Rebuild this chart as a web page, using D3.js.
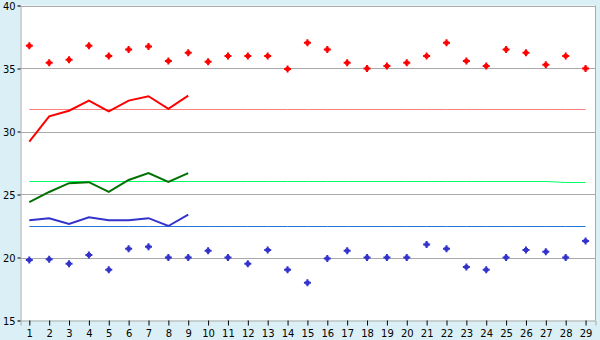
<!DOCTYPE html>
<html><head><meta charset="utf-8">
<script src="https://cdn.jsdelivr.net/npm/d3@7"></script>
<style>html,body{margin:0;padding:0;background:#daf0f6;}svg{display:block;}</style>
</head><body>
<script>
const days = d3.range(1, 30);
const yTicks = [15, 20, 25, 30, 35, 40];
const redLine = [29.2, 31.2, 31.65, 32.45, 31.6, 32.45, 32.8, 31.8, 32.85];
const greenLine = [24.4, 25.2, 25.9, 25.98, 25.2, 26.15, 26.7, 26.0, 26.7];
const blueLine = [22.96, 23.12, 22.67, 23.2, 22.96, 22.96, 23.12, 22.5, 23.4];
const redPoints = [36.8, 35.45, 35.7, 36.8, 36.0, 36.5, 36.75, 35.6, 36.25, 35.53, 36.0, 36.0, 36.0, 34.97, 37.05, 36.5, 35.45, 35.0, 35.2, 35.45, 36.0, 37.05, 35.6, 35.2, 36.5, 36.25, 35.3, 36.0, 35.0];
const bluePoints = [19.8, 19.87, 19.5, 20.2, 19.02, 20.7, 20.85, 20.0, 20.0, 20.53, 20.0, 19.5, 20.6, 19.02, 18.0, 19.92, 20.53, 20.0, 20.0, 20.0, 21.04, 20.7, 19.25, 19.02, 20.0, 20.6, 20.45, 20.0, 21.3];
const redRef = days.map(() => 31.8);
const greenRef = days.map((d) => d <= 27 ? 26.1 : 26.03);
const blueRef = days.map(() => 22.5);

const W = 600, H = 340;
const L = 20.5, R = 595.5, T = 5.5, B = 320.5;
const svg = d3.select("body").append("svg").attr("width", W).attr("height", H);
const x = d3.scaleLinear().domain([0.557, 29.5]).range([L, R]);
const y = d3.scaleLinear().domain([15, 40]).range([B, T]);

svg.append("rect").attr("x", L).attr("y", T).attr("width", R - L).attr("height", B - T).attr("fill", "#fff");

// grid
svg.append("g").selectAll("line").data(yTicks.filter(v => v > 15)).join("line")
  .attr("x1", L).attr("x2", R).attr("y1", d => Math.round(y(d)) + 0.5).attr("y2", d => Math.round(y(d)) + 0.5)
  .attr("stroke", "#aaaaaa").attr("stroke-width", 1);
svg.append("line").attr("x1", R).attr("x2", R).attr("y1", T).attr("y2", B).attr("stroke", "#aaaaaa");

// axes
const yAxis = d3.axisLeft(y).tickValues(yTicks).tickSize(3).tickPadding(2).tickFormat(d3.format("d"));
const gy = svg.append("g").attr("transform", `translate(${L},0)`).call(yAxis);
const xAxis = d3.axisBottom(x).tickValues(days).tickSize(5).tickPadding(4).tickFormat(d3.format("d"));
const gx = svg.append("g").attr("transform", `translate(0,${B})`).call(xAxis);
[gx, gy].forEach(g => {
  g.select(".domain").attr("stroke", "#aaaaaa");
  g.selectAll(".tick line").attr("stroke", "#000");
  g.selectAll("text").attr("fill", "#000");
});
gx.selectAll("text").attr("font-family", "DejaVu Sans, Verdana, sans-serif").attr("font-size", 10);
gy.selectAll("text").attr("font-family", "DejaVu Sans Condensed, DejaVu Sans, sans-serif").attr("font-size", 11);

// reference lines
const line = d3.line().x((d, i) => x(i + 1)).y(d => y(d));
const refLine = d3.line().x((d, i) => x(i + 1)).y(d => Math.round(y(d)) + 0.5);
svg.append("path").datum(redRef).attr("d", refLine).attr("fill", "none").attr("stroke", "#ff8080").attr("stroke-width", 1);
svg.append("path").datum(greenRef).attr("d", refLine).attr("fill", "none").attr("stroke", "#00ff66").attr("stroke-width", 1);
svg.append("path").datum(blueRef).attr("d", refLine).attr("fill", "none").attr("stroke", "#2277dd").attr("stroke-width", 1);

// data lines
svg.append("path").datum(redLine).attr("d", line).attr("fill", "none").attr("stroke", "#ff0000").attr("stroke-width", 2);
svg.append("path").datum(greenLine).attr("d", line).attr("fill", "none").attr("stroke", "#007000").attr("stroke-width", 2);
svg.append("path").datum(blueLine).attr("d", line).attr("fill", "none").attr("stroke", "#3333cc").attr("stroke-width", 2);

// markers
const marker = "M-1,-3.5H1V-2H2V-1H3.5V1H2V2H1V3.5H-1V2H-2V1H-3.5V-1H-2V-2H-1Z";
svg.append("g").selectAll("path").data(redPoints).join("path")
  .attr("d", marker).attr("transform", (d, i) => `translate(${x(i + 1)},${y(d)})`).attr("fill", "#ff0000");
svg.append("g").selectAll("path").data(bluePoints).join("path")
  .attr("d", marker).attr("transform", (d, i) => `translate(${x(i + 1)},${y(d)})`).attr("fill", "#3333cc");
</script>
</body></html>
